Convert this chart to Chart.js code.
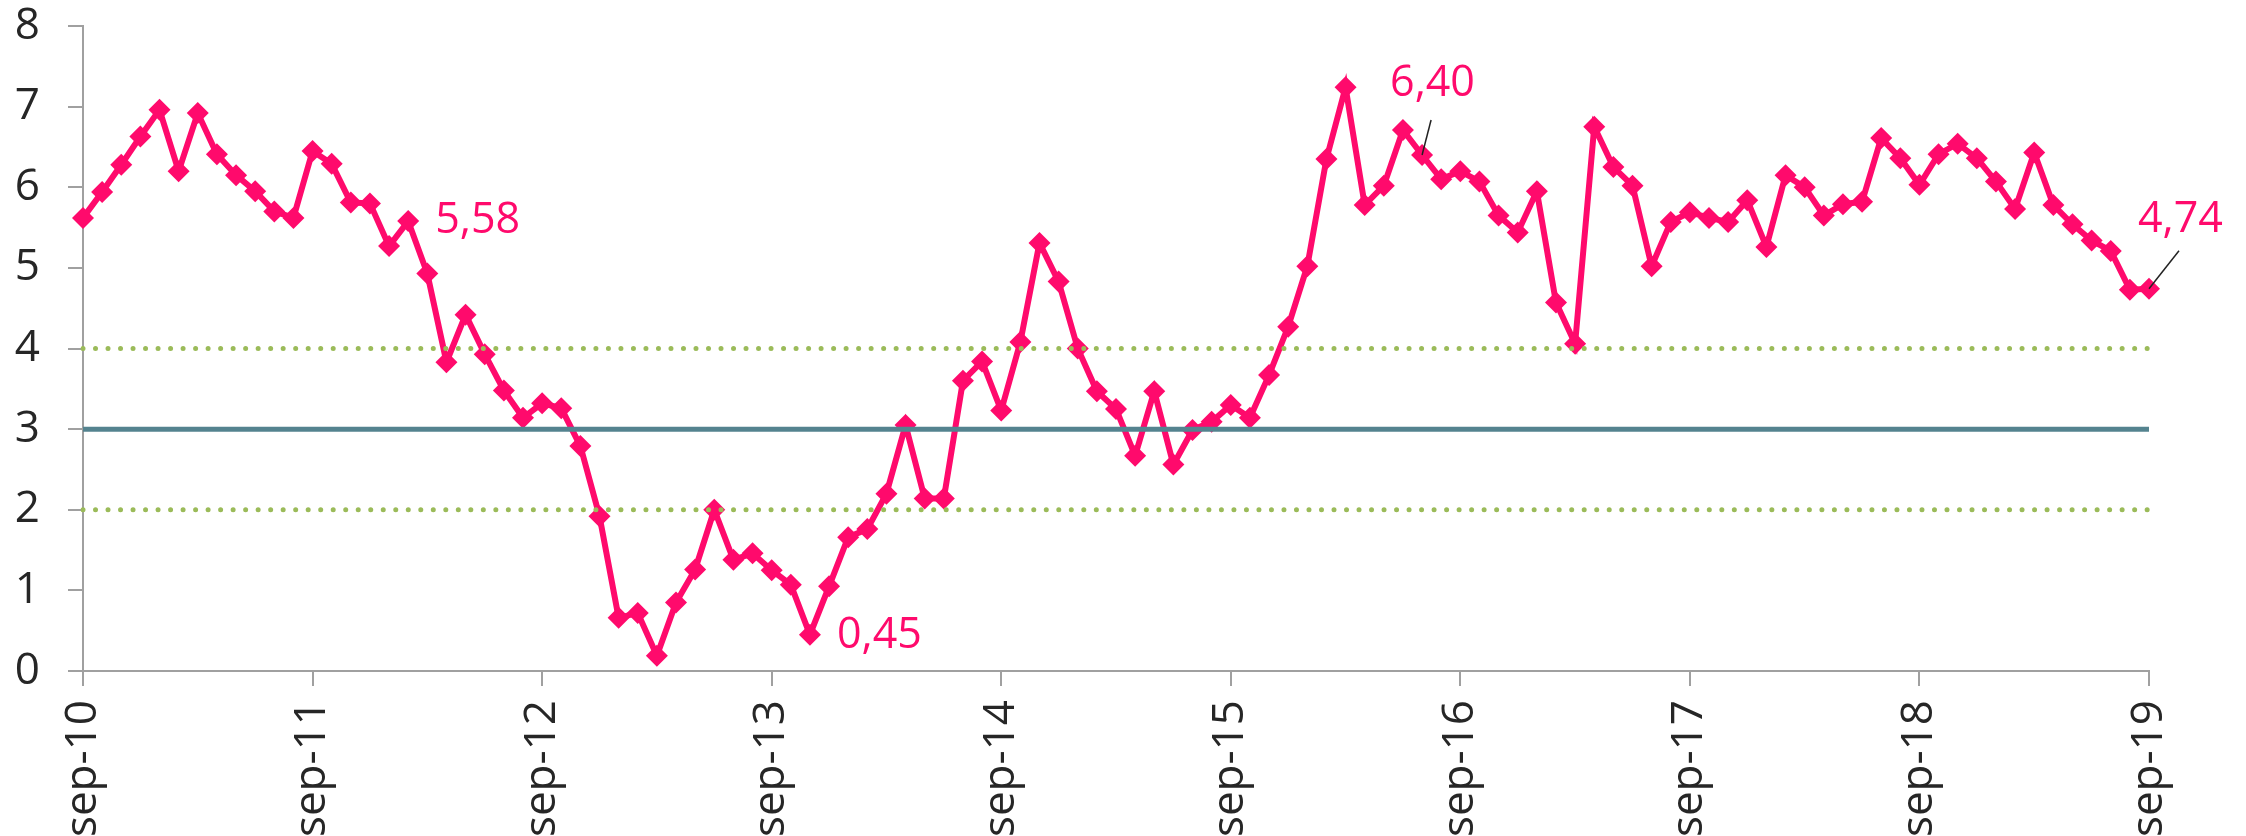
<!doctype html>
<html lang="sv"><head>
<meta charset="utf-8"/>
<title>sep-10 – sep-19</title>
<script src="https://cdn.jsdelivr.net/npm/chart.js@4.4.6/dist/chart.umd.min.js"></script>
<style>
  html,body{margin:0;padding:0;background:#fff;overflow:hidden}
  #wrap{width:2246px;height:836px}
</style></head>
<body>
<div id="wrap"><canvas id="c" width="2246" height="836"></canvas></div>
<script>
// month names for the category axis, first point is sep-10
const MONTHS=['sep','okt','nov','dec','jan','feb','mar','apr','maj','jun','jul','aug'];
const FIRST_YEAR=10;
// monthly values, sep-10 .. sep-19
const VALUES=[
  5.62,5.94,6.28,6.63,6.96,6.20,6.92,6.41,6.15,5.95,5.70,5.62,
  6.45,6.29,5.81,5.80,5.27,5.58,4.93,3.83,4.42,3.93,3.48,3.14,
  3.32,3.26,2.79,1.92,0.66,0.72,0.19,0.85,1.26,2.00,1.38,1.46,
  1.25,1.07,0.45,1.05,1.66,1.76,2.20,3.05,2.14,2.14,3.60,3.84,
  3.23,4.08,5.31,4.83,4.00,3.47,3.25,2.67,3.47,2.56,2.99,3.09,
  3.30,3.14,3.67,4.27,5.02,6.35,7.24,5.78,6.02,6.71,6.40,6.10,
  6.20,6.07,5.65,5.44,5.95,4.57,4.06,6.75,6.25,6.02,5.02,5.57,
  5.69,5.62,5.57,5.84,5.26,6.15,6.00,5.65,5.79,5.82,6.61,6.36,
  6.03,6.41,6.54,6.36,6.07,5.73,6.43,5.78,5.54,5.34,5.21,4.73,
  4.74
];
// reference levels: target and tolerance band
const TARGET=3;
const BAND=[2,4];
const Y_TICKS=[0,1,2,3,4,5,6,7,8];
// labelled points: index into VALUES
const CALLOUTS=[17,38,70,108];

const LABELS=VALUES.map((v,i)=>MONTHS[i%12]+'-'+(FIRST_YEAR+Math.floor((i+8)/12)));
const PINK='#ff0a6c', TEAL='#54838f', GREEN='#9bbb59', AXIS='#a0a0a0', INK='#262626';
const FONT='"Open Sans", "Noto Sans", sans-serif';

function hline(y,color,dash){
  return {type:'line',data:[{x:LABELS[0],y},{x:LABELS[LABELS.length-1],y}],
    borderColor:color,borderWidth:5,borderDash:dash||[],borderCapStyle:dash?'round':'butt',
    pointRadius:0,order:1};
}

// callout text placement relative to the point (px)
const CALLOUT_STYLE={
  17:{dx:27,dy:0},
  38:{dx:27,dy:1},
  70:{dx:-32,dy:-71,lead:[9,-35]},
  108:{dx:-11,dy:-69,lead:[30,-38]}
};
const callouts={
  id:'callouts',
  afterDatasetsDraw(chart){
    const ctx=chart.ctx, x=chart.scales.x, y=chart.scales.y;
    ctx.save();
    ctx.font='43px '+FONT;ctx.textBaseline='middle';ctx.textAlign='left';
    CALLOUTS.forEach(i=>{
      const px=x.getPixelForValue(i), py=y.getPixelForValue(VALUES[i]);
      const s=CALLOUT_STYLE[i];
      if(s.lead){
        ctx.strokeStyle='#222';ctx.lineWidth=1.5;
        ctx.beginPath();ctx.moveTo(px+s.lead[0],py+s.lead[1]);ctx.lineTo(px,py);ctx.stroke();
      }
      ctx.fillStyle=PINK;
      ctx.fillText(VALUES[i].toFixed(2).replace('.',','),px+s.dx,py+s.dy);
    });
    ctx.restore();
  }
};

new Chart(document.getElementById('c'),{
  data:{labels:LABELS,datasets:[
    {type:'line',data:VALUES,borderColor:PINK,borderWidth:6,backgroundColor:PINK,
      pointStyle:'rectRot',pointRadius:11,pointBorderWidth:0,tension:0,order:2},
    hline(TARGET,TEAL),
    hline(BAND[0],GREEN,[0.01,12.5]),
    hline(BAND[1],GREEN,[0.01,12.5])
  ]},
  options:{
    responsive:false,animation:false,
    layout:{padding:{top:0,right:97,left:0,bottom:0}},
    plugins:{legend:{display:false},tooltip:{enabled:false}},
    scales:{
      x:{offset:false,
        grid:{drawOnChartArea:false,drawTicks:true,tickLength:15,color:AXIS,lineWidth:2},
        border:{color:AXIS,width:2},
        ticks:{autoSkip:false,minRotation:90,maxRotation:90,padding:14,color:INK,font:{family:FONT,size:44},
          callback:(v,i)=>i%12===0?LABELS[i]:null},
        afterFit:s=>{s.height=165;}},
      y:{min:0,max:8,
        afterBuildTicks:s=>{s.ticks=Y_TICKS.map(v=>({value:v}));},
        grid:{drawOnChartArea:false,drawTicks:true,tickLength:15,color:AXIS,lineWidth:2},
        border:{color:AXIS,width:2},
        ticks:{padding:28,color:INK,font:{family:FONT,size:44}},
        afterFit:s=>{s.width=83;s.paddingTop=26;s.paddingBottom=0;}}
    }
  },
  plugins:[callouts]
});
</script>
</body></html>
